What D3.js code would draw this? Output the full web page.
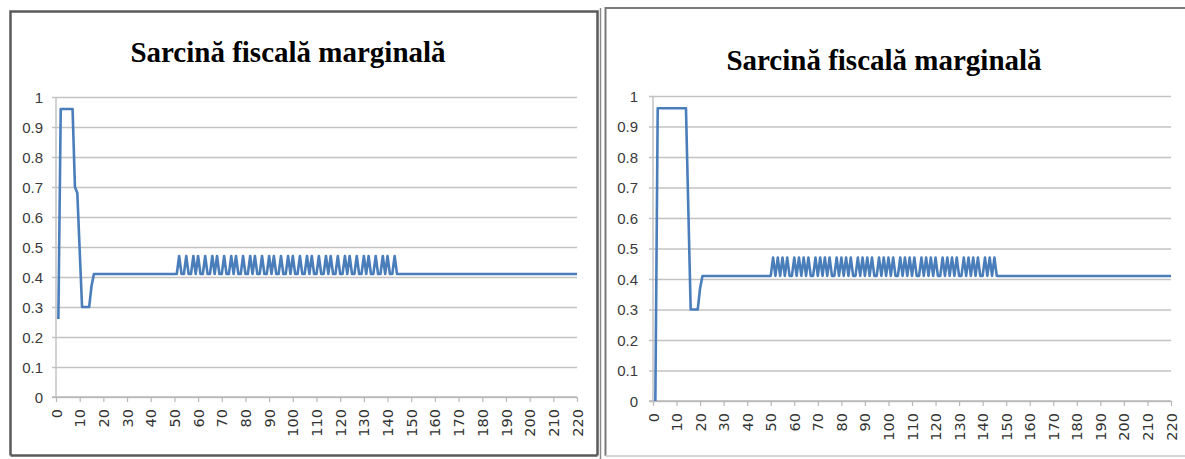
<!DOCTYPE html>
<html>
<head>
<meta charset="utf-8">
<script src="https://cdn.jsdelivr.net/npm/d3@7"></script>
<style>
  html, body { margin: 0; padding: 0; background: #fff; overflow: hidden; }
  svg { display: block; }
</style>
</head>
<body>
<svg id="chart" width="1185" height="459"></svg>
<script>
// Marginal tax burden by income level — two scenarios side by side.
const chartTitle = "Sarcină fiscală marginală";

const xTickValues = [0, 10, 20, 30, 40, 50, 60, 70, 80, 90, 100, 110,
                     120, 130, 140, 150, 160, 170, 180, 190, 200, 210, 220];
const yTickValues = [0, 0.1, 0.2, 0.3, 0.4, 0.5, 0.6, 0.7, 0.8, 0.9, 1];
const yTickLabels = ["0", "0.1", "0.2", "0.3", "0.4", "0.5", "0.6", "0.7", "0.8", "0.9", "1"];

// Left scenario: income level and marginal rate at each vertex of the line
const leftIncome = [
  1, 2, 7, 8, 9, 11, 14, 15, 16,
  51, 52, 53, 54, 55, 56, 57, 58, 59, 60,
  61, 62, 63, 64, 65, 66, 67, 68, 69, 70,
  71, 72, 73, 74, 75, 76, 77, 78, 79, 80,
  81, 82, 83, 84, 85, 86, 87, 88, 89, 90,
  91, 92, 93, 94, 95, 96, 97, 98, 99, 100,
  101, 102, 103, 104, 105, 106, 107, 108, 109, 110,
  111, 112, 113, 114, 115, 116, 117, 118, 119, 120,
  121, 122, 123, 124, 125, 126, 127, 128, 129, 130,
  131, 132, 133, 134, 135, 136, 137, 138, 139, 140,
  141, 142, 143, 144,
  220
];
const leftRate = [
  0.26, 0.96, 0.96, 0.70, 0.68, 0.30, 0.30, 0.37, 0.41,
  0.41, 0.47, 0.41, 0.41, 0.47, 0.41, 0.41, 0.47, 0.41, 0.47,
  0.41, 0.41, 0.47, 0.41, 0.41, 0.47, 0.41, 0.47, 0.41, 0.41,
  0.47, 0.41, 0.41, 0.47, 0.41, 0.47, 0.41, 0.41, 0.47, 0.41,
  0.41, 0.47, 0.41, 0.47, 0.41, 0.41, 0.47, 0.41, 0.41, 0.47,
  0.41, 0.47, 0.41, 0.41, 0.47, 0.41, 0.41, 0.47, 0.41, 0.47,
  0.41, 0.41, 0.47, 0.41, 0.41, 0.47, 0.41, 0.47, 0.41, 0.41,
  0.47, 0.41, 0.41, 0.47, 0.41, 0.47, 0.41, 0.41, 0.47, 0.41,
  0.41, 0.47, 0.41, 0.47, 0.41, 0.41, 0.47, 0.41, 0.41, 0.47,
  0.41, 0.47, 0.41, 0.41, 0.47, 0.41, 0.41, 0.47, 0.41, 0.47,
  0.41, 0.41, 0.47, 0.41,
  0.41
];

// Right scenario
const rightIncome = [
  1, 2, 14, 16, 19, 20, 21,
  50, 51, 52, 53, 54, 55, 56, 57, 58, 59,
  60, 61, 62, 63, 64, 65, 66, 67, 68, 69,
  70, 71, 72, 73, 74, 75, 76, 77, 78, 79,
  80, 81, 82, 83, 84, 85, 86, 87, 88, 89,
  90, 91, 92, 93, 94, 95, 96, 97, 98, 99,
  100, 101, 102, 103, 104, 105, 106, 107, 108, 109,
  110, 111, 112, 113, 114, 115, 116, 117, 118, 119,
  120, 121, 122, 123, 124, 125, 126, 127, 128, 129,
  130, 131, 132, 133, 134, 135, 136, 137, 138, 139,
  140, 141, 142, 143, 144, 145, 146,
  220
];
const rightRate = [
  0, 0.96, 0.96, 0.30, 0.30, 0.37, 0.41,
  0.41, 0.47, 0.41, 0.47, 0.41, 0.47, 0.41, 0.47, 0.41, 0.41,
  0.47, 0.41, 0.47, 0.41, 0.47, 0.41, 0.47, 0.41, 0.41, 0.47,
  0.41, 0.47, 0.41, 0.47, 0.41, 0.47, 0.41, 0.41, 0.47, 0.41,
  0.47, 0.41, 0.47, 0.41, 0.47, 0.41, 0.41, 0.47, 0.41, 0.47,
  0.41, 0.47, 0.41, 0.47, 0.41, 0.41, 0.47, 0.41, 0.47, 0.41,
  0.47, 0.41, 0.47, 0.41, 0.41, 0.47, 0.41, 0.47, 0.41, 0.47,
  0.41, 0.47, 0.41, 0.41, 0.47, 0.41, 0.47, 0.41, 0.47, 0.41,
  0.47, 0.41, 0.41, 0.47, 0.41, 0.47, 0.41, 0.47, 0.41, 0.47,
  0.41, 0.41, 0.47, 0.41, 0.47, 0.41, 0.47, 0.41, 0.47, 0.41,
  0.41, 0.47, 0.41, 0.47, 0.41, 0.47, 0.41,
  0.41
];

const svg = d3.select("#chart");

const panels = [
  {
    income: leftIncome, rate: leftRate,
    frame: { x: 10.5, y: 11.5, w: 587, h: 444, stroke: "#5a5a5a", width: 2.5, bottom: "#5a5a5a" },
    titleX: 288, titleY: 62,
    x0: 56, x1: 577, y0: 397, y1: 97,
    yLabelX: 43, xLabelY: 409
  },
  {
    income: rightIncome, rate: rightRate,
    frame: { x: 605.5, y: 8, w: 590, h: 448, stroke: "#7a7a7a", width: 2, bottom: "#d4d4d4" },
    titleX: 884, titleY: 70,
    x0: 653, x1: 1171, y0: 401, y1: 96,
    yLabelX: 638, xLabelY: 413
  }
];

// separator line on the outer side of the left frame
svg.append("line")
  .attr("x1", 600.5).attr("x2", 600.5).attr("y1", 8).attr("y2", 459)
  .attr("stroke", "#8a8a8a").attr("stroke-width", 1.5);

panels.forEach(p => {
  const g = svg.append("g");
  const f = p.frame;

  // frame: top, left and right edges, then a bottom edge in its own colour
  g.append("path")
    .attr("d", `M${f.x},${f.y + f.h}V${f.y}H${f.x + f.w}V${f.y + f.h}`)
    .attr("fill", "#fff")
    .attr("stroke", f.stroke).attr("stroke-width", f.width);
  g.append("line")
    .attr("x1", f.x).attr("x2", f.x + f.w)
    .attr("y1", f.y + f.h).attr("y2", f.y + f.h)
    .attr("stroke", f.bottom).attr("stroke-width", f.width);

  g.append("text")
    .attr("x", p.titleX).attr("y", p.titleY)
    .attr("text-anchor", "middle")
    .attr("font-family", "'Liberation Serif', 'Times New Roman', serif")
    .attr("font-weight", "bold").attr("font-size", 29)
    .attr("fill", "#000")
    .text(chartTitle);

  const x = d3.scaleLinear().domain([0, 220]).range([p.x0, p.x1]);
  const y = d3.scaleLinear().domain([0, 1]).range([p.y0, p.y1]);

  // horizontal gridlines with y tick labels
  const yAxis = d3.axisLeft(y)
    .tickValues(yTickValues)
    .tickSize(-(p.x1 - p.x0))
    .tickSizeOuter(0)
    .tickPadding(0)
    .tickFormat((d, i) => yTickLabels[i]);
  const ya = g.append("g").attr("transform", `translate(${p.x0},0)`).call(yAxis);
  ya.select(".domain").remove();
  ya.selectAll(".tick line")
    .attr("x1", -4)
    .attr("stroke", "#c3c3c3").attr("stroke-width", 1.5);
  ya.selectAll(".tick text")
    .attr("x", p.yLabelX - p.x0)
    .attr("dy", "0.35em")
    .attr("font-family", "'Liberation Sans', Arial, sans-serif")
    .attr("font-size", 15)
    .attr("fill", "#3a3a3a");

  // vertical axis line
  g.append("line")
    .attr("x1", p.x0).attr("x2", p.x0)
    .attr("y1", y(1)).attr("y2", y(0))
    .attr("stroke", "#c3c3c3").attr("stroke-width", 1.5);

  // category axis with rotated labels
  const xAxis = d3.axisBottom(x)
    .tickValues(xTickValues)
    .tickSize(5)
    .tickSizeOuter(0)
    .tickFormat(d3.format("d"));
  const xa = g.append("g").attr("transform", `translate(0,${p.y0})`).call(xAxis);
  xa.select(".domain").attr("stroke", "#b8b8b8").attr("stroke-width", 1.5)
    .attr("d", `M${p.x0 - 4},0H${p.x1}`);
  xa.selectAll(".tick line").attr("stroke", "#b8b8b8").attr("stroke-width", 1.2);
  xa.selectAll(".tick text")
    .attr("transform", "rotate(-90)")
    .attr("x", -(p.xLabelY - p.y0))
    .attr("y", 0)
    .attr("dy", "0.35em")
    .attr("text-anchor", "end")
    .attr("font-family", "'DejaVu Sans', sans-serif")
    .attr("font-size", 14.5)
    .attr("fill", "#333");

  // the rate line
  const pts = p.income.map((v, i) => [v, p.rate[i]]);
  const line = d3.line().x(d => x(d[0])).y(d => y(d[1]));
  g.append("path")
    .datum(pts)
    .attr("d", line)
    .attr("fill", "none")
    .attr("stroke", "#4a7ebb")
    .attr("stroke-width", 2.6)
    .attr("stroke-linejoin", "round")
    .attr("stroke-linecap", "butt");
});
</script>
</body>
</html>
